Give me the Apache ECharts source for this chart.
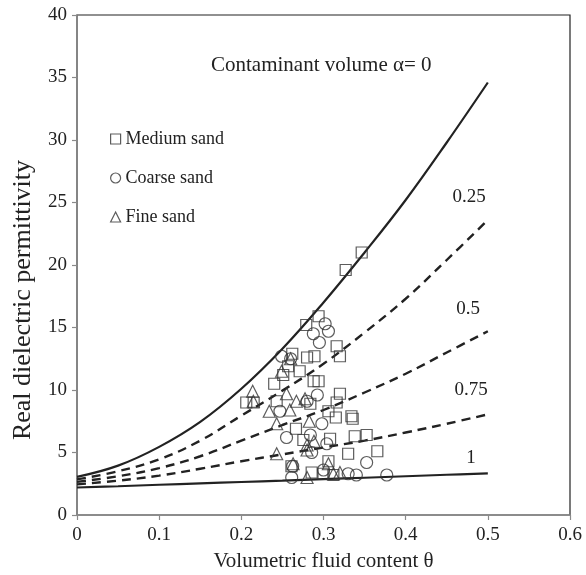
<!DOCTYPE html>
<html>
<head>
<meta charset="utf-8">
<script src="https://cdn.jsdelivr.net/npm/echarts@6/dist/echarts.min.js"></script>
<style>html,body{margin:0;padding:0;background:#fff;}#c{width:586px;height:575px;}</style>
</head>
<body>
<div id="c"></div>
<script>
// Model curves, sampled at theta grid
var thetaGrid = [0, 0.05, 0.1, 0.15, 0.2, 0.25, 0.3, 0.35, 0.4, 0.45, 0.5];
var curveA0   = [3.05, 3.95, 5.45, 7.45, 10.1, 13.3, 17.0, 21.0, 25.2, 29.8, 34.6];
var curveA025 = [2.85, 3.5, 4.45, 5.95, 7.95, 9.95, 12.1, 14.6, 17.3, 20.4, 23.6];
var curveA05  = [2.65, 3.1, 3.75, 4.7, 5.95, 7.2, 8.4, 9.8, 11.3, 13.0, 14.7];
var curveA075 = [2.45, 2.75, 3.15, 3.7, 4.3, 4.85, 5.4, 5.95, 6.6, 7.3, 8.05];
var curveA1   = [2.2, 2.3, 2.42, 2.53, 2.64, 2.75, 2.87, 2.98, 3.1, 3.22, 3.33];
var curveLabels = ['0.25', '0.5', '0.75', '1'];

// Measurements [theta, permittivity]
var mediumSand = [[0.3465,21.0],[0.327,19.6],[0.294,15.9],[0.279,15.2],[0.316,13.5],[0.320,12.7],[0.262,12.9],[0.280,12.6],[0.289,12.7],[0.257,11.9],[0.271,11.5],[0.251,11.2],[0.240,10.5],[0.288,10.7],[0.294,10.7],[0.206,9.0],[0.215,9.0],[0.243,9.1],[0.284,8.9],[0.320,9.7],[0.316,9.0],[0.306,8.3],[0.315,7.8],[0.334,7.9],[0.3355,7.7],[0.2665,6.9],[0.2755,6.0],[0.308,6.1],[0.338,6.3],[0.3525,6.4],[0.330,4.9],[0.3655,5.1],[0.306,4.3],[0.261,3.9],[0.2856,3.4],[0.300,3.3],[0.312,3.2]];
var coarseSand = [[0.302,15.3],[0.306,14.7],[0.2876,14.5],[0.295,13.8],[0.249,12.7],[0.260,12.5],[0.2925,9.6],[0.280,9.1],[0.247,8.3],[0.298,7.3],[0.255,6.2],[0.284,6.4],[0.2856,5.0],[0.3525,4.2],[0.2625,3.9],[0.2613,3.0],[0.300,3.6],[0.330,3.3],[0.340,3.2],[0.377,3.2],[0.304,5.7]];
var fineSand = [[0.260,12.5],[0.249,11.5],[0.2138,9.9],[0.2146,9.1],[0.255,9.7],[0.267,9.1],[0.234,8.3],[0.259,8.4],[0.2775,9.3],[0.243,7.3],[0.2827,7.5],[0.280,5.6],[0.2884,5.9],[0.243,4.9],[0.280,5.2],[0.263,4.1],[0.306,4.1],[0.280,3.0],[0.312,3.3],[0.320,3.4]];

var xTicks = {min: 0, max: 0.6, interval: 0.1};
var yTicks = {min: 0, max: 40, interval: 5};
var titleText = 'Contaminant volume α= 0';
var xName = 'Volumetric fluid content θ';
var yName = 'Real dielectric permittivity';

function pairs(ys) { return thetaGrid.map(function (t, i) { return [t, ys[i]]; }); }

var FONT = 'Liberation Serif';
var INK = '#222';
var chart = echarts.init(document.getElementById('c'));

function curve(name, ys, dashed) {
  return {
    name: name, type: 'line', data: pairs(ys), smooth: 0.4, showSymbol: false, silent: true,
    lineStyle: {color: INK, width: dashed ? 2.4 : 2.2, type: dashed ? [9, 6] : 'solid'},
    z: 2
  };
}
function pts(name, data, symbol, size) {
  return {
    name: name, type: 'scatter', data: data, symbol: symbol, symbolSize: size,
    itemStyle: {color: 'rgba(0,0,0,0)', borderColor: '#333', borderWidth: 1.2},
    z: 3
  };
}
function txt(s, x, y, size, align, rot) {
  return {type: 'text', x: x, y: y, rotation: rot || 0, z: 10,
    style: {text: s, font: size + 'px "' + FONT + '"', fill: INK, textAlign: align || 'center', textVerticalAlign: 'middle'}};
}

var axisCommon = {
  axisLine: {lineStyle: {color: '#8a8a8a', width: 1.5}},
  axisTick: {show: true, inside: false, length: 5, lineStyle: {color: '#8a8a8a', width: 1.2}},
  splitLine: {show: false},
  nameTextStyle: {fontFamily: FONT, fontSize: 21, color: INK}
};

chart.setOption({
  backgroundColor: '#fff',
  animation: false,
  grid: {left: 77, right: 16, top: 15, bottom: 60, outerBoundsMode: 'none', containLabel: false,
    show: true, borderColor: '#222', borderWidth: 1.2, backgroundColor: 'transparent'},
  xAxis: Object.assign({
    type: 'value', min: xTicks.min, max: xTicks.max, interval: xTicks.interval,
    name: xName, nameLocation: 'middle', nameGap: 36,
    axisLabel: {fontFamily: FONT, fontSize: 19, color: INK, margin: 11}
  }, axisCommon),
  yAxis: Object.assign({
    type: 'value', min: yTicks.min, max: yTicks.max, interval: yTicks.interval,
    axisLabel: {fontFamily: FONT, fontSize: 19, color: INK, margin: 10}
  }, axisCommon),
  legend: {
    orient: 'vertical', left: 105, top: 125, itemGap: 21, itemWidth: 10, itemHeight: 10,
    textStyle: {fontFamily: FONT, fontSize: 18, color: INK},
    data: [
      {name: 'Medium sand', icon: 'rect', itemStyle: {color: 'rgba(0,0,0,0)', borderColor: '#333', borderWidth: 1.2}},
      {name: 'Coarse sand', icon: 'circle', itemStyle: {color: 'rgba(0,0,0,0)', borderColor: '#333', borderWidth: 1.2}},
      {name: 'Fine sand', icon: 'triangle', itemStyle: {color: 'rgba(0,0,0,0)', borderColor: '#333', borderWidth: 1.2}}
    ]
  },
  graphic: [
    txt(titleText, 211, 65, 21, 'left'),
    txt(yName, 23, 300, 26, 'center', Math.PI / 2),
    txt(curveLabels[0], 469, 197, 19),
    txt(curveLabels[1], 468, 309, 19),
    txt(curveLabels[2], 471, 390, 19),
    txt(curveLabels[3], 471, 458, 19)
  ],
  series: [
    curve('α=0', curveA0, false),
    curve('α=0.25', curveA025, true),
    curve('α=0.5', curveA05, true),
    curve('α=0.75', curveA075, true),
    curve('α=1', curveA1, false),
    pts('Medium sand', mediumSand, 'rect', 11),
    pts('Coarse sand', coarseSand, 'circle', 12),
    pts('Fine sand', fineSand, 'triangle', 12)
  ]
});
</script>
</body>
</html>
